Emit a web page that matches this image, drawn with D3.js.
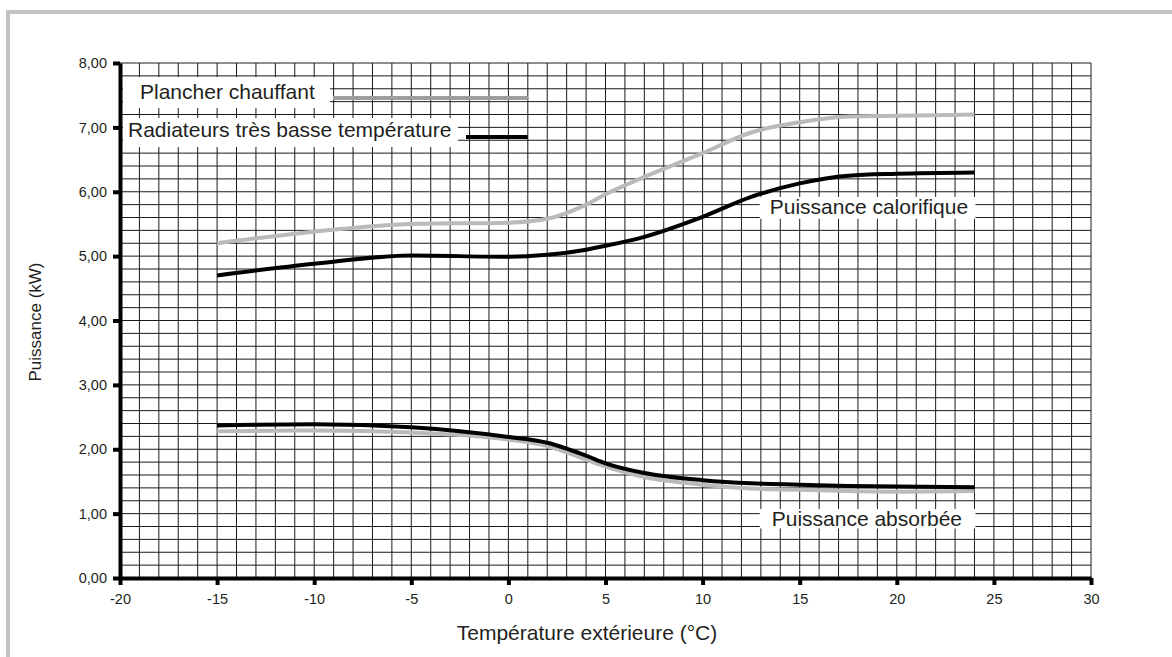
<!DOCTYPE html>
<html>
<head>
<meta charset="utf-8">
<script src="https://d3js.org/d3.v7.min.js"></script>
<style>
  body { margin: 0; background: #fff; }
  text { font-family: "Liberation Sans", Arial, Helvetica, sans-serif; fill: #231f20; }
</style>
</head>
<body>
<div id="chart"></div>
<script>

// temperatures (°C) at which the curves were read
var temps = [-15, -10, -5, 0, 2, 4, 5, 7, 10, 12.5, 15, 17.5, 20, 24];

// heating power (kW)
var calPlancher  = [5.20, 5.38, 5.50, 5.52, 5.58, 5.80, 5.96, 6.23, 6.60, 6.92, 7.08, 7.17, 7.18, 7.20];
var calRadiateur = [4.70, 4.88, 5.01, 4.99, 5.02, 5.10, 5.16, 5.30, 5.61, 5.92, 6.13, 6.25, 6.28, 6.30];

// absorbed power (kW)
var absPlancher  = [2.28, 2.29, 2.26, 2.15, 2.05, 1.84, 1.73, 1.57, 1.45, 1.39, 1.37, 1.35, 1.34, 1.35];
var absRadiateur = [2.37, 2.39, 2.34, 2.19, 2.10, 1.90, 1.78, 1.63, 1.52, 1.47, 1.45, 1.43, 1.42, 1.41];

var xTicks = [-20, -15, -10, -5, 0, 5, 10, 15, 20, 25, 30];
var yTicks = [0, 1, 2, 3, 4, 5, 6, 7, 8];

var W = 1172, H = 657;
var margin = {top: 63, right: 81, bottom: 79, left: 120};

var svg = d3.select("#chart")
  .append("svg")
    .attr("width", W)
    .attr("height", H);

// grey frame round the figure
svg.append("rect")
  .attr("x", 8).attr("y", 12)
  .attr("width", W + 20).attr("height", H + 20)
  .attr("fill", "none")
  .attr("stroke", "#c1c3c5")
  .attr("stroke-width", 4);

var x = d3.scaleLinear().domain([-20, 30]).range([margin.left, W - margin.right]);
var y = d3.scaleLinear().domain([0, 8]).range([H - margin.bottom, margin.top]);

// graph paper: one line every degree, every 0.2 kW
var grid = svg.append("g").attr("stroke", "#1a1a1a").attr("stroke-width", 1);
grid.selectAll(".vx")
  .data(d3.range(-20, 31, 1))
  .enter().append("line")
    .attr("x1", d => x(d)).attr("x2", d => x(d))
    .attr("y1", y(0)).attr("y2", y(8));
grid.selectAll(".hy")
  .data(d3.range(0, 41).map(i => i * 0.2))
  .enter().append("line")
    .attr("x1", x(-20)).attr("x2", x(30))
    .attr("y1", d => y(d)).attr("y2", d => y(d));

// white boxes behind texts
function box(x0, y0, x1, y1) {
  svg.append("rect")
    .attr("x", x0).attr("y", y0)
    .attr("width", x1 - x0).attr("height", y1 - y0)
    .attr("fill", "#fff");
}

// legend
box(123, 77, 330, 108);
box(123, 118, 458, 147);
svg.append("text").attr("x", 140).attr("y", 99).attr("font-size", 21).text("Plancher chauffant");
svg.append("text").attr("x", 128).attr("y", 137).attr("font-size", 21).text("Radiateurs très basse température");
svg.append("line")
  .attr("x1", 333).attr("x2", x(1)).attr("y1", 98).attr("y2", 98)
  .attr("stroke", "#9c9ea1").attr("stroke-width", 4);
svg.append("line")
  .attr("x1", 466).attr("x2", x(1)).attr("y1", 137).attr("y2", 137)
  .attr("stroke", "#000").attr("stroke-width", 4);

// curve labels
var lab1x = x(13.25), lab1y = y(5.65);
box(lab1x - 6, y(5.92), x(24.05), y(5.58));
svg.append("text").attr("x", lab1x + 4).attr("y", lab1y).attr("font-size", 21).text("Puissance calorifique");
var lab2x = x(13.25), lab2y = y(0.81);
box(lab2x - 6, y(1.07), x(24.05), y(0.77));
svg.append("text").attr("x", lab2x + 6).attr("y", lab2y).attr("font-size", 21).text("Puissance absorbée");

// curves
var line = d3.line()
  .x(d => x(d[0]))
  .y(d => y(d[1]))
  .curve(d3.curveMonotoneX);

var series = [
  {vals: absPlancher,  color: "#b9babc"},
  {vals: absRadiateur, color: "#000"},
  {vals: calPlancher,  color: "#b9babc"},
  {vals: calRadiateur, color: "#000"}
];
svg.selectAll(".curve")
  .data(series)
  .enter().append("path")
    .attr("class", "curve")
    .attr("fill", "none")
    .attr("stroke", d => d.color)
    .attr("stroke-width", 4)
    .attr("d", d => line(temps.map((t, i) => [t, d.vals[i]])));

// axes
var fmt = d3.format(".2f");
var xAxis = svg.append("g")
  .attr("transform", "translate(0," + y(0) + ")")
  .call(d3.axisBottom(x).tickValues(xTicks).tickSize(7).tickSizeOuter(0).tickPadding(9)
    .tickFormat(d => String(d)));
var yAxis = svg.append("g")
  .attr("transform", "translate(" + x(-20) + ",0)")
  .call(d3.axisLeft(y).tickValues(yTicks).tickSize(7).tickSizeOuter(0).tickPadding(6)
    .tickFormat(d => fmt(d).replace(".", ",")));

[xAxis, yAxis].forEach(function(a) {
  a.select(".domain").attr("stroke", "#000").attr("stroke-width", 4);
  a.selectAll(".tick line").attr("stroke", "#000").attr("stroke-width", 4);
  a.selectAll(".tick text")
    .attr("font-size", 14.5)
    .attr("font-family", "Liberation Sans, Arial, sans-serif")
    .attr("fill", "#231f20");
});

// axis titles
svg.append("text")
  .attr("x", 587)
  .attr("y", 640)
  .attr("text-anchor", "middle")
  .attr("font-size", 21)
  .text("Température extérieure (°C)");
svg.append("text")
  .attr("transform", "translate(41,322) rotate(-90)")
  .attr("text-anchor", "middle")
  .attr("font-size", 17)
  .text("Puissance (kW)");

</script>
</body>
</html>
